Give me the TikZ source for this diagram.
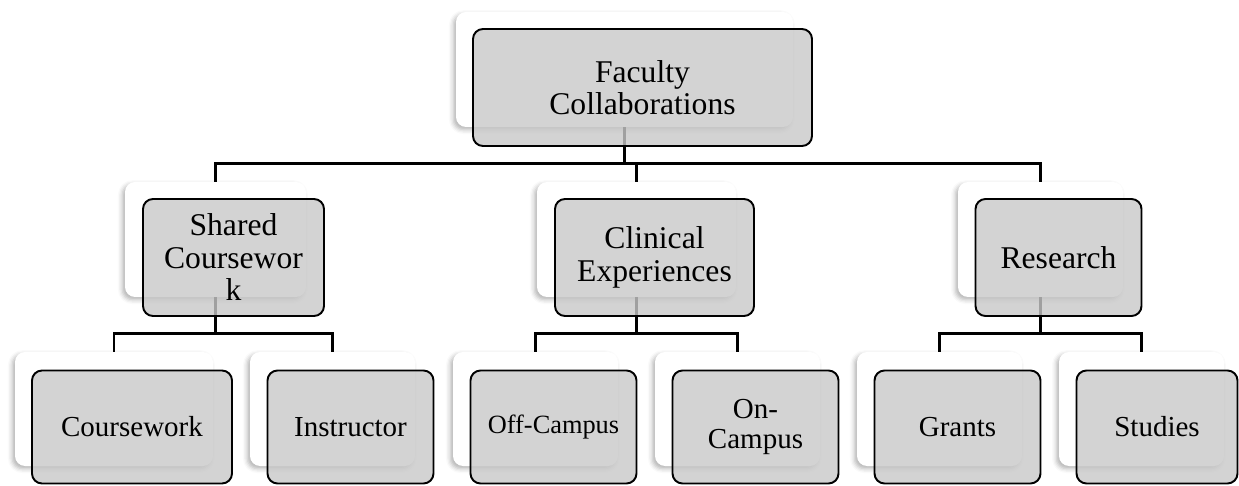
\documentclass[tikz,border=0pt]{standalone}
\usepackage{fontspec}
\setmainfont{Liberation Serif}
\usetikzlibrary{shadows.blur}
\definecolor{boxgray}{RGB}{200,200,200}

\begin{document}
\begin{tikzpicture}[
    backbox/.style={fill=white,rounded corners=0.2cm,inner sep=0pt,
        blur shadow={shadow xshift=-1.5pt,shadow yshift=-1.5pt,shadow blur radius=2.5pt,shadow opacity=30}},
    frontbox/.style={draw=black,line width=1.1pt,fill=boxgray,fill opacity=0.8,text opacity=1,
        rounded corners=0.2cm,inner sep=0pt,align=center,xshift=0.36cm,yshift=-0.36cm},
    big/.style={font=\fontsize{18}{18.5}\selectfont},
    small/.style={font=\fontsize{16.5}{17}\selectfont},
    link/.style={line width=1.5pt}
]
    \useasboundingbox (0,0) rectangle (24.78,9.70);
    \def\h{2.30}
    \def\hl{2.28}
    \node [backbox,minimum width=6.74cm,minimum height=\h cm] (facb) at (12.49,8.31) {};
    \node [backbox,minimum width=3.62cm,minimum height=\h cm] (shab) at (4.31,4.91) {};
    \node [backbox,minimum width=3.98cm,minimum height=\h cm] (clib) at (12.73,4.91) {};
    \node [backbox,minimum width=3.30cm,minimum height=\h cm] (resb) at (20.81,4.91) {};
    \node [backbox,minimum width=3.96cm,minimum height=\hl cm] (cwb) at (2.28,1.52) {};
    \node [backbox,minimum width=3.30cm,minimum height=\hl cm] (insb) at (6.65,1.52) {};
    \node [backbox,minimum width=3.30cm,minimum height=\hl cm] (offb) at (10.71,1.52) {};
    \node [backbox,minimum width=3.30cm,minimum height=\hl cm] (onb) at (14.75,1.52) {};
    \node [backbox,minimum width=3.30cm,minimum height=\hl cm] (grab) at (18.79,1.52) {};
    \node [backbox,minimum width=3.30cm,minimum height=\hl cm] (stub) at (22.83,1.52) {};

    \draw [link] (facb.south) -- ++(0,-0.72) -| (shab.north);
    \draw [link] (facb.south) -- ++(0,-0.72) -| (clib.north);
    \draw [link] (facb.south) -- ++(0,-0.72) -| (resb.north);
    \draw [link] (shab.south) -- ++(0,-0.72) -| (cwb.north);
    \draw [link] (shab.south) -- ++(0,-0.72) -| (insb.north);
    \draw [link] (clib.south) -- ++(0,-0.72) -| (offb.north);
    \draw [link] (clib.south) -- ++(0,-0.72) -| (onb.north);
    \draw [link] (resb.south) -- ++(0,-0.72) -| (grab.north);
    \draw [link] (resb.south) -- ++(0,-0.72) -| (stub.north);

    \node [frontbox,big,minimum width=6.78cm,minimum height=2.34cm] (fac) at (facb) {Faculty\\Collaborations};
    \node [frontbox,big,minimum width=3.62cm,minimum height=2.34cm] (sha) at (shab) {Shared\\Coursewor\\k};
    \node [frontbox,big,minimum width=3.98cm,minimum height=2.34cm] (cli) at (clib) {Clinical\\Experiences};
    \node [frontbox,big,minimum width=3.32cm,minimum height=2.34cm] (res) at (resb) {Research};
    \node [frontbox,small,minimum width=4.00cm,minimum height=2.26cm] (cw) at (cwb) {Coursework};
    \node [frontbox,small,minimum width=3.32cm,minimum height=2.26cm] (ins) at (insb) {Instructor};
    \node [frontbox,font=\fontsize{15}{16}\selectfont,minimum width=3.32cm,minimum height=2.26cm] (off) at (offb) {Off-Campus};
    \node [frontbox,small,minimum width=3.32cm,minimum height=2.26cm] (on) at (onb) {On-\\Campus};
    \node [frontbox,small,minimum width=3.32cm,minimum height=2.26cm] (gra) at (grab) {Grants};
    \node [frontbox,small,minimum width=3.22cm,minimum height=2.26cm,xshift=-0.05cm] (stu) at (stub) {Studies};
\end{tikzpicture}
\end{document}
